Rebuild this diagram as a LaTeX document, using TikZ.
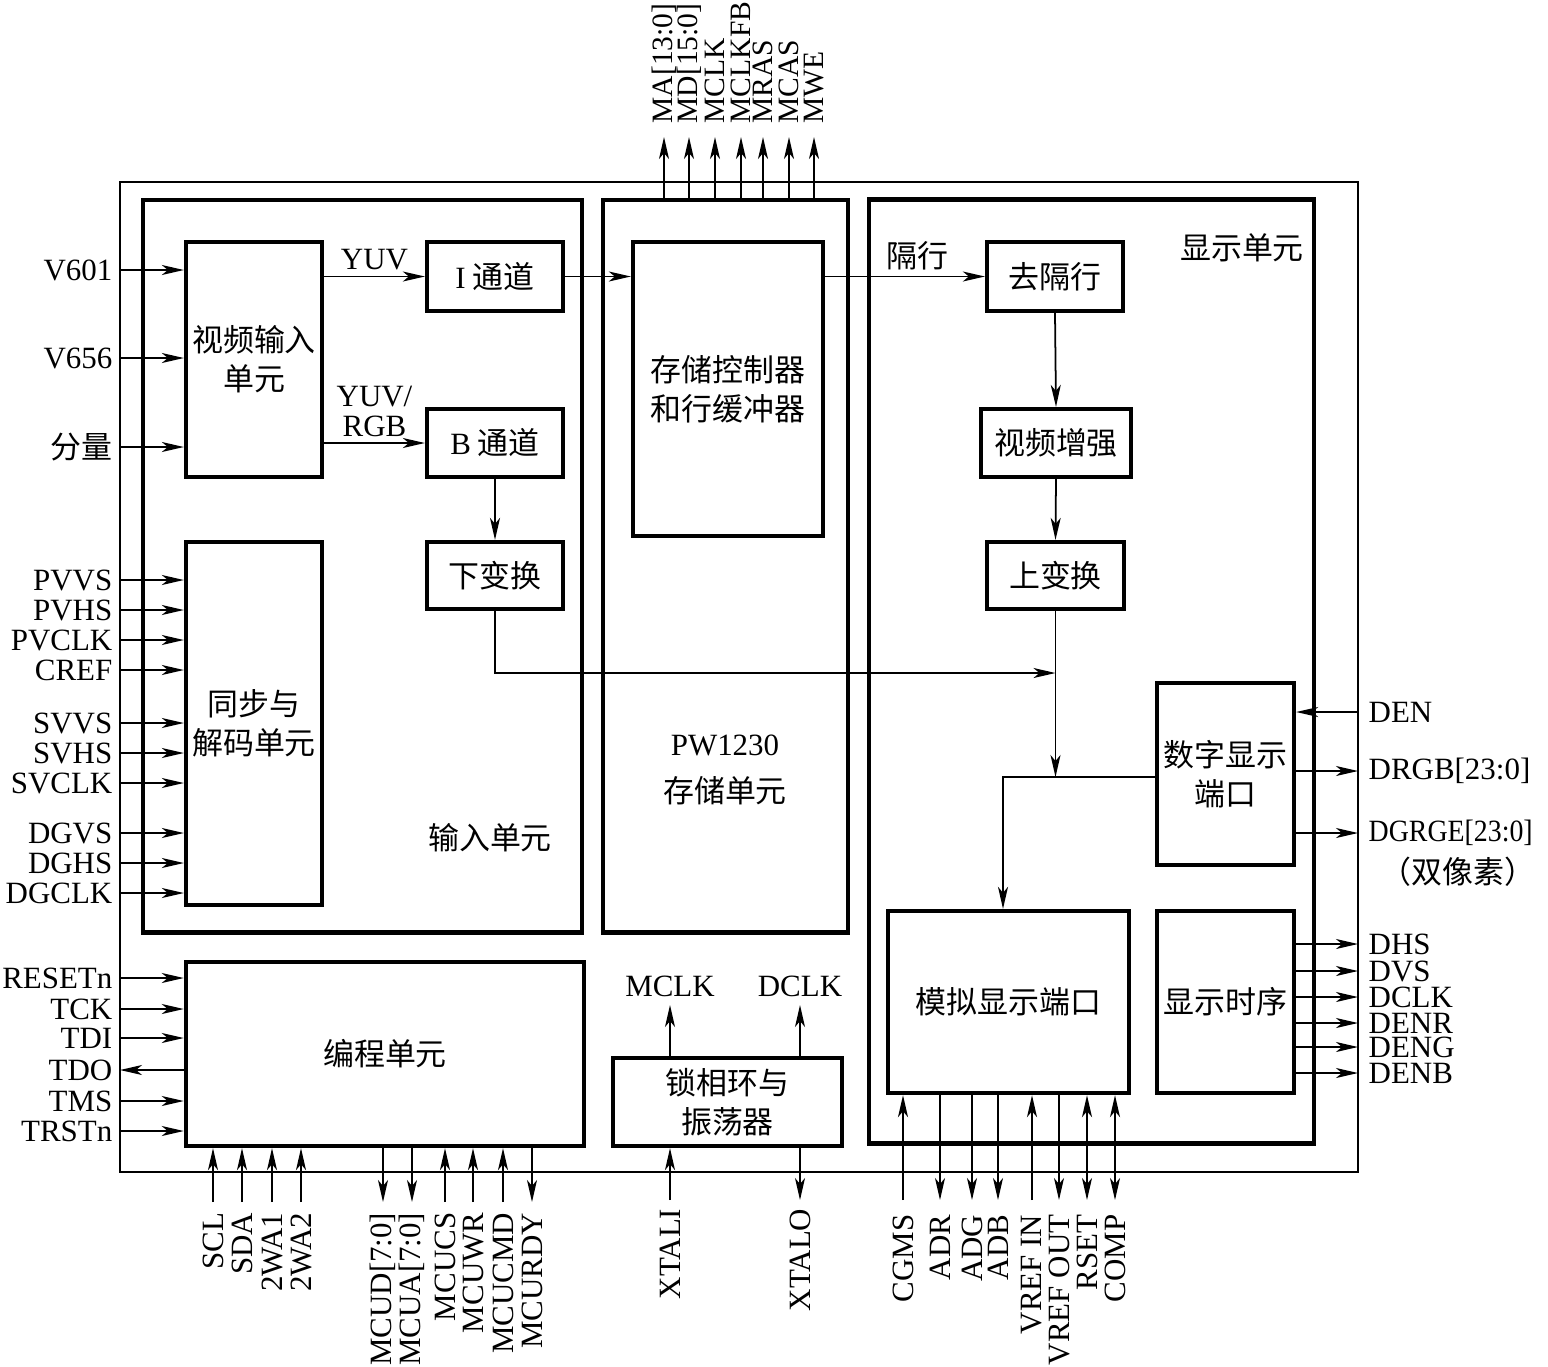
\documentclass[tikz,border=0pt]{standalone}
\usepackage{fontspec}
\usepackage{graphicx}
\setmainfont{Liberation Serif}
\newfontfamily\cjk{Noto Sans CJK SC}
\newcommand{\zhs}{\cjk\fontsize{8.8}{11}\selectfont}
\usetikzlibrary{arrows.meta}

\tikzset{
  blk/.style={draw, line width=1.2pt, inner sep=0pt, align=center, font=\zhs},
  unit/.style={draw, line width=1.3pt, inner sep=0pt},
  pinlbl/.style={inner sep=0pt},
  sig/.style={line width=0.5pt, -{Stealth[length=2.2mm,width=1mm,inset=0.6mm]}},
  sigr/.style={line width=0.5pt, {Stealth[length=2.2mm,width=1mm,inset=0.6mm]}-},
  sigb/.style={line width=0.5pt, {Stealth[length=2.2mm,width=1mm,inset=0.6mm]}-{Stealth[length=2.2mm,width=1mm,inset=0.6mm]}},
  zh/.style={font=\zhs, align=center},
}

\begin{document}
\begin{tikzpicture}[x=0.01cm, y=-0.01cm, font=\fontsize{8.8}{10.5}\selectfont]
    \useasboundingbox (0,0) rectangle (1548,1366);
    % Chip outline and the three units.
        \draw[line width=0.6pt] (120,182) rectangle (1358,1172);
        \node[unit, minimum width=4.39cm, minimum height=7.32cm] (inunit) at (362.5,566) {};
        \node[unit, minimum width=2.45cm, minimum height=7.32cm] (memunit) at (725.5,566) {};
        \node[unit, minimum width=4.45cm, minimum height=9.43cm] (dispunit) at (1091.5,671.5) {};
        \node[zh] at (490,838) {输入单元};
        \node[zh] at (1242,248) {显示单元};
        \node[align=center] at (725,770) {PW1230\\[3pt]{\zhs 存储单元}};
    % Below nodes are the blocks.
        \node[blk, minimum width=1.36cm, minimum height=2.35cm] (vin) at (254,359.5) {视频输入\\单元};
        \node[blk, minimum width=1.36cm, minimum height=0.69cm] (ich) at (495,276.5) {{\rmfamily I} 通道};
        \node[blk, minimum width=1.36cm, minimum height=0.68cm] (bch) at (495,443) {{\rmfamily B} 通道};
        \node[blk, minimum width=1.36cm, minimum height=0.67cm] (down) at (495,575.5) {下变换};
        \node[blk, minimum width=1.36cm, minimum height=3.63cm] (sync) at (254,723.5) {同步与\\解码单元};
        \node[blk, minimum width=1.90cm, minimum height=2.94cm] (memctl) at (728,389) {存储控制器\\和行缓冲器};
        \node[blk, minimum width=1.36cm, minimum height=0.69cm] (deint) at (1055,276.5) {去隔行};
        \node[blk, minimum width=1.50cm, minimum height=0.68cm] (enh) at (1056,443) {视频增强};
        \node[blk, minimum width=1.37cm, minimum height=0.67cm] (up) at (1055.5,575.5) {上变换};
        \node[blk, minimum width=1.37cm, minimum height=1.82cm] (dport) at (1225.5,774) {数字显示\\端口};
        \node[blk, minimum width=2.41cm, minimum height=1.82cm] (aport) at (1008.5,1002) {模拟显示端口};
        \node[blk, minimum width=1.37cm, minimum height=1.82cm] (timing) at (1225.5,1002) {显示时序};
        \node[blk, minimum width=3.98cm, minimum height=1.84cm] (prog) at (385,1054) {编程单元};
        \node[blk, minimum width=2.29cm, minimum height=0.88cm] (pll) at (727.5,1102) {锁相环与\\振荡器};
    % Data path inside the chip.
        \draw[sig] (ich.west -| vin.east) -- node[midway, above, inner sep=1.5pt] {YUV} (ich.west);
        \draw[sig] (bch.west -| vin.east) -- node[midway, above, inner sep=1.5pt, align=center] {YUV/\\[-2pt]RGB} (bch.west);
        \draw[sig] (bch.south) -- (down.north);
        \draw[sig] (ich.east) -- (ich.east -| memctl.west);
        \draw[sig] (deint.west -| memctl.east) -- node[pos=0.58, above, inner sep=1.5pt] {\zhs 隔行} (deint.west);
        \draw[sig] (deint.south) -- (enh.north);
        \draw[sig] (enh.south) -- (up.north);
        \coordinate (mixrow) at (0,673);
        \coordinate (splitrow) at (0,777);
        \coordinate (turn) at (1003,777);
        \draw[sig] (down.south) |- (up.south |- mixrow);
        \draw[sig] (up.south) -- (up.south |- splitrow);
        \draw[sig] (splitrow -| dport.west) -| (aport.north -| turn);
    % Left side pins.
        \foreach \y/\t in {270/V601, 358/V656, 447/{\zhs 分量}}{
            \coordinate (pin) at (120,\y);
            \node[pinlbl, anchor=east] at (113,\y) {\t};
            \draw[sig] (pin) -- (pin -| vin.west);
        }
        \foreach \y/\t in {580/PVVS, 610/PVHS, 640/PVCLK, 670/CREF, 723/SVVS, 753/SVHS, 783/SVCLK, 833/DGVS, 863/DGHS, 893/DGCLK}{
            \coordinate (pin) at (120,\y);
            \node[pinlbl, anchor=east] at (113,\y) {\t};
            \draw[sig] (pin) -- (pin -| sync.west);
        }
        \foreach \y/\t/\s in {978/RESETn/sig, 1009/TCK/sig, 1038/TDI/sig, 1070/TDO/sigr, 1101/TMS/sig, 1131/TRSTn/sig}{
            \coordinate (pin) at (120,\y);
            \node[pinlbl, anchor=east] at (113,\y) {\t};
            \draw[\s] (pin) -- (pin -| prog.west);
        }
    % Top pins of the memory unit.
        \foreach \x/\t in {664/{MA[13:0]}, 689/{MD[15:0]}, 715/MCLK, 741/MCLKFB, 763/MRAS, 789/MCAS, 814/MWE}{
            \coordinate (pin) at (\x,137);
            \draw[sig] (pin |- memunit.north) -- (pin);
            \node[pinlbl, rotate=90, anchor=west, font=\fontsize{8.4}{10}\selectfont] at (\x,124) {\t};
        }
    % Bottom pins.
        \foreach \x/\t/\s in {213/SCL/sig, 242/SDA/sig, 272/2WA1/sig, 301/2WA2/sig, 383/{MCUD[7:0]}/sigr, 412/{MCUA[7:0]}/sigr, 445/MCUCS/sig, 473/MCUWR/sig, 503/MCUCMD/sig, 532/MCURDY/sigr}{
            \coordinate (pin) at (\x,1202);
            \draw[\s] (pin) -- (pin |- prog.south);
            \node[pinlbl, rotate=90, anchor=east] at (\x,1212) {\t};
        }
        \foreach \x/\t/\s in {670/XTALI/sig, 800/XTALO/sigr}{
            \coordinate (pin) at (\x,1200);
            \draw[\s] (pin) -- (pin |- pll.south);
            \node[pinlbl, rotate=90, anchor=east] at (\x,1208) {\t};
        }
        \foreach \x/\t/\s in {903/CGMS/sig, 940/ADR/sigr, 972/ADG/sigr, 998/ADB/sigr, 1032/{VREF IN}/sig, 1059/{VREF OUT}/sigr, 1087/RSET/sigb, 1115/COMP/sigb}{
            \coordinate (pin) at (\x,1200);
            \draw[\s] (pin) -- (pin |- aport.south);
            \node[pinlbl, rotate=90, anchor=east] at (\x,1214) {\t};
        }
    % Clock outputs of the PLL.
        \coordinate (mclk) at (670,1005);
        \coordinate (dclk) at (800,1005);
        \draw[sig] (mclk |- pll.north) -- (mclk) node[above=1pt, inner sep=1pt] {MCLK};
        \draw[sig] (dclk |- pll.north) -- (dclk) node[above=1pt, inner sep=1pt] {DCLK};
    % Right side pins.
        \coordinate (den) at (1358,712);
        \draw[sig] (den) -- (den -| dport.east);
        \node[pinlbl, anchor=west] at (1368,712) {DEN};
        \foreach \y/\t in {771/{DRGB[23:0]}, 833/{\scalebox{0.9}[1]{DGRGE[23:0]}}}{
            \coordinate (pin) at (1358,\y);
            \draw[sig] (pin -| dport.east) -- (pin);
            \node[pinlbl, anchor=west] at (1368,\y) {\t};
        }
        \node[zh] at (1458,872) {（双像素）};
        \foreach \y/\t in {944/DHS, 971/DVS, 997/DCLK, 1023/DENR, 1047/DENG, 1073/DENB}{
            \coordinate (pin) at (1358,\y);
            \draw[sig] (pin -| timing.east) -- (pin);
            \node[pinlbl, anchor=west] at (1368,\y) {\t};
        }
\end{tikzpicture}
\end{document}
